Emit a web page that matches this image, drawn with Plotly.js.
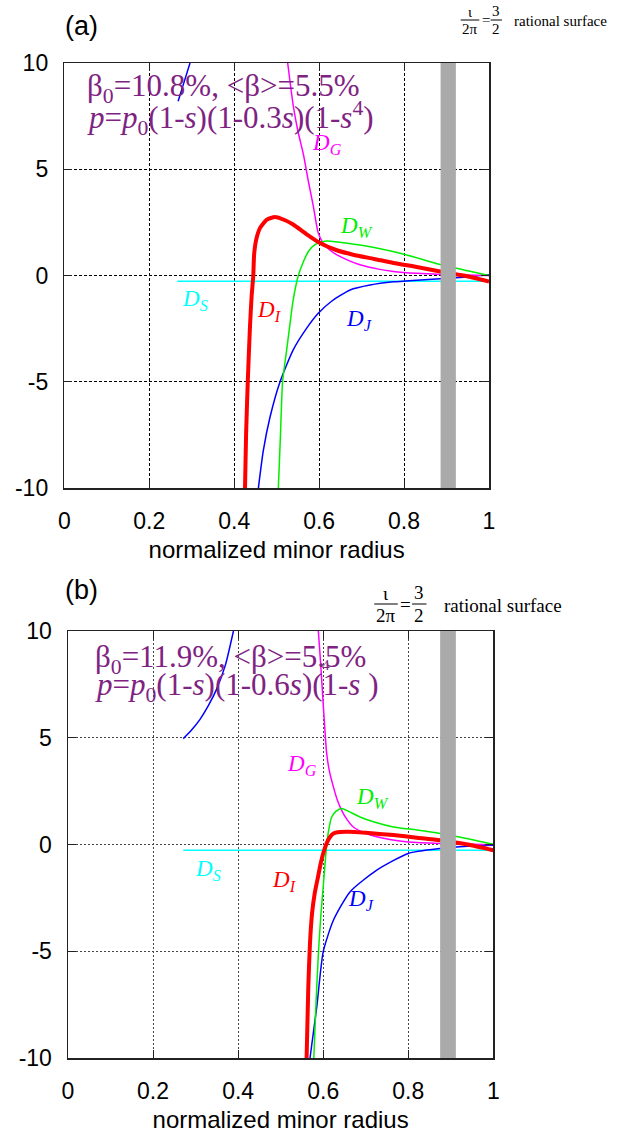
<!DOCTYPE html>
<html>
<head>
<meta charset="utf-8">
<script src="https://cdn.plot.ly/plotly-3.0.1.min.js"></script>
<style>html,body{margin:0;padding:0;background:#fff;}#chart{width:623px;height:1136px;}</style>
</head>
<body>
<div id="chart"></div>
<script>
// ---------- Panel (a) data ----------
const xIa = [0.4255,0.428,0.432,0.437,0.441,0.445,0.447,0.452,0.461,0.477,0.496,0.52,0.539,0.57,0.602,0.64,0.68,0.73,0.775,0.83,0.885,0.94,1.0];
const yIa = [-10,-7.5,-5,-2.5,-1,0,1,1.7,2.24,2.63,2.75,2.6,2.4,1.95,1.53,1.2,0.98,0.78,0.59,0.4,0.19,0.0,-0.28];
const xWa = [0.504,0.509,0.514,0.5236,0.53,0.539,0.551,0.562,0.575,0.59,0.605,0.62,0.7,0.8,0.885,0.95,1.0];
const yWa = [-10,-7.5,-5,-3.5,-2.5,-1.15,0,0.6,1.14,1.45,1.58,1.62,1.42,1.0,0.52,0.22,0.0];
const xGa = [0.526,0.539,0.55,0.563,0.575,0.586,0.598,0.61,0.625,0.641,0.67,0.696,0.74,0.775,0.83,0.885,1.0];
const yGa = [10,8.0,6.8,5.7,4.4,3.3,2.0,1.5,1.2,0.98,0.7,0.51,0.3,0.19,0.1,0.05,0.0];
const xJa = [0.268,0.282,0.296,null,0.457,0.4686,0.4843,0.508,0.539,0.57,0.598,0.63,0.673,0.72,0.775,0.83,0.885,0.94,1.0];
const yJa = [8.2,9.1,10,null,-10,-8.24,-6.67,-5.0,-3.5,-2.5,-1.78,-1.2,-0.68,-0.45,-0.3,-0.22,-0.15,-0.08,0.03];
const xSa = [0.266,0.5,0.75,1.0];
const ySa = [-0.27,-0.27,-0.27,-0.27];

// ---------- Panel (b) data ----------
const xIb = [0.561,0.565,0.569,0.574,0.58,0.587,0.594,0.601,0.608,0.616,0.624,0.64,0.66,0.7,0.765,0.82,0.875,0.94,1.0];
const yIb = [-10,-6.7,-4.6,-3.2,-2.3,-1.6,-0.9,-0.35,0.05,0.35,0.52,0.59,0.6,0.55,0.44,0.32,0.2,0.0,-0.27];
const xWb = [0.578,0.583,0.589,0.595,0.6,0.606,0.61,0.615,0.62,0.63,0.6435,0.66,0.6866,0.72,0.765,0.82,0.875,0.94,1.0];
const yWb = [-10,-7.5,-5,-3.2,-2.0,-0.5,0.3,0.9,1.29,1.55,1.69,1.55,1.29,1.05,0.82,0.68,0.52,0.27,0.01];
const xGb = [0.5886,0.594,0.6,0.604,0.608,0.615,0.624,0.633,0.6435,0.655,0.671,0.7,0.726,0.76,0.8,0.875,1.0];
const yGb = [10,8.5,6.6,5.4,4.3,3.4,2.7,2.1,1.6,1.2,0.82,0.52,0.36,0.22,0.12,0.05,0.0];
const xJb = [0.271,0.29,0.31,0.33,0.35,0.37,0.389,null,0.569,0.585,0.6,0.624,0.663,0.726,0.8,0.875,0.94,1.0];
const yJb = [4.96,5.35,5.85,6.5,7.3,8.4,10,null,-10,-7.6,-5.03,-3.55,-2.22,-1.2,-0.42,-0.19,-0.08,-0.03];
const xSb = [0.271,0.5,0.75,1.0];
const ySb = [-0.27,-0.27,-0.27,-0.27];

// rational surface location (band edges)
const bandA = [0.886, 0.922];
const bandB = [0.875, 0.912];

// tick labels
const xTickVals = [0,0.2,0.4,0.6,0.8,1];
const xTickText = ['0','0.2','0.4','0.6','0.8','1'];
const yTickVals = [-10,-5,0,5,10];
const yTickText = ['-10','-5','0','5','10'];

// texts
const panelLabels = ['(a)','(b)'];
const infoA = ['β<sub>0</sub>=10.8%, &lt;β&gt;=5.5%', '<i>p</i>=<i>p</i><sub>0</sub>(1-<i>s</i>)(1-0.3<i>s</i>)(1-<i>s</i><sup>4</sup>)'];
const infoB = ['β<sub>0</sub>=11.9%, &lt;β&gt;=5.5%', '<i>p</i>=<i>p</i><sub>0</sub>(1-<i>s</i>)(1-0.6<i>s</i>)(1-<i>s</i> )'];
const curveNames = ['<i>D</i><sub><i>I</i></sub>','<i>D</i><sub><i>W</i></sub>','<i>D</i><sub><i>G</i></sub>','<i>D</i><sub><i>J</i></sub>','<i>D</i><sub><i>S</i></sub>'];
const colors = ['#ff0000','#00ee00','#ff00ff','#0000ff','#00ffff'];

const W = 623, H = 1136;
const px = v => v / W;
const py = v => 1 - v / H;

function tr(x, y, c, w, xa, ya, name) {
  return {x: x, y: y, type: 'scatter', mode: 'lines', name: name,
    line: {color: c, width: w, shape: 'spline', smoothing: 0.6}, xaxis: xa, yaxis: ya,
    showlegend: false, hoverinfo: 'skip', connectgaps: false};
}

const data = [
  tr(xSa, ySa, colors[4], 1.5, 'x', 'y', 'D_S'),
  tr(xJa, yJa, colors[3], 1.5, 'x', 'y', 'D_J'),
  tr(xGa, yGa, colors[2], 1.5, 'x', 'y', 'D_G'),
  tr(xWa, yWa, colors[1], 1.5, 'x', 'y', 'D_W'),
  tr(xIa, yIa, colors[0], 4, 'x', 'y', 'D_I'),
  tr(xSb, ySb, colors[4], 1.5, 'x2', 'y2', 'D_S'),
  tr(xJb, yJb, colors[3], 1.5, 'x2', 'y2', 'D_J'),
  tr(xGb, yGb, colors[2], 1.5, 'x2', 'y2', 'D_G'),
  tr(xWb, yWb, colors[1], 1.5, 'x2', 'y2', 'D_W'),
  tr(xIb, yIb, colors[0], 4, 'x2', 'y2', 'D_I')
];

const tickFont = {family: 'Liberation Sans, Arial, sans-serif', size: 23, color: '#000'};
function xax(dom, gridcolor, dash) {
  return {domain: dom, range: [0, 1], tickvals: xTickVals, ticktext: xTickText,
    showgrid: true, gridcolor: gridcolor, griddash: dash, gridwidth: 1,
    ticks: 'inside', ticklen: 8, tickcolor: '#222', mirror: 'ticks', showline: true,
    linecolor: '#222', linewidth: 1.5, zeroline: false, tickfont: tickFont,
    ticklabelstandoff: 12, fixedrange: true,
    title: {text: 'normalized minor radius', font: {family: 'Liberation Sans, Arial, sans-serif', size: 24, color: '#000'}, standoff: 8}};
}
function yax(dom, gridcolor, dash, anchor) {
  return {domain: dom, range: [-10, 10], tickvals: yTickVals, ticktext: yTickText,
    showgrid: true, gridcolor: gridcolor, griddash: dash, gridwidth: 1, anchor: anchor,
    ticks: 'inside', ticklen: 8, tickcolor: '#222', mirror: 'ticks', showline: true,
    linecolor: '#222', linewidth: 1.5, zeroline: false, tickfont: tickFont,
    ticklabelstandoff: 10, fixedrange: true};
}

const purple = '#7f2383';
const serif = 'Liberation Serif, Times New Roman, serif';
const annotations = [];
function addText(text, x, y, xref, yref, size, color, xanchor, yanchor, fam) {
  annotations.push({text: text, x: x, y: y, xref: xref, yref: yref, showarrow: false,
    font: {family: fam || serif, size: size, color: color}, xanchor: xanchor || 'center', yanchor: yanchor || 'middle'});
}
// panel labels
addText(panelLabels[0], px(81), py(26), 'paper', 'paper', 27, '#000', 'center', 'middle', 'Liberation Sans, Arial, sans-serif');
addText(panelLabels[1], px(81), py(590), 'paper', 'paper', 27, '#000', 'center', 'middle', 'Liberation Sans, Arial, sans-serif');
// info texts
addText(infoA[0], px(85), py(88), 'paper', 'paper', 31, purple, 'left');
addText(infoA[1], px(85), py(118), 'paper', 'paper', 31, purple, 'left');
addText(infoB[0], px(93), py(659), 'paper', 'paper', 31, purple, 'left');
addText(infoB[1], px(93), py(687), 'paper', 'paper', 31, purple, 'left');
addText('4', px(326), py(665), 'paper', 'paper', 15, purple, 'center');
// curve labels (a)
addText(curveNames[2], 0.6186, 6.18, 'x', 'y', 23, colors[2]);
addText(curveNames[1], 0.689, 2.30, 'x', 'y', 23, colors[1]);
addText(curveNames[4], 0.3077, -1.15, 'x', 'y', 23, colors[4]);
addText(curveNames[0], 0.482, -1.67, 'x', 'y', 23, colors[0]);
addText(curveNames[3], 0.6939, -2.10, 'x', 'y', 23, colors[3]);
// curve labels (b)
addText(curveNames[2], 0.550, 3.71, 'x2', 'y2', 23, colors[2]);
addText(curveNames[1], 0.717, 2.17, 'x2', 'y2', 23, colors[1]);
addText(curveNames[4], 0.329, -1.2, 'x2', 'y2', 23, colors[4]);
addText(curveNames[0], 0.508, -1.72, 'x2', 'y2', 23, colors[0]);
addText(curveNames[3], 0.689, -2.61, 'x2', 'y2', 23, colors[3]);

// rational surface labels
const shapes = [];
function rational(xf, yb, fs, textLeft) {
  addText('ι', px(xf), py(yb - fs*0.55), 'paper', 'paper', fs, '#000');
  addText('2π', px(xf), py(yb + fs*0.6), 'paper', 'paper', fs, '#000');
  shapes.push({type: 'line', xref: 'paper', yref: 'paper', x0: px(xf - fs*0.62), x1: px(xf + fs*0.62), y0: py(yb), y1: py(yb), line: {color: '#000', width: 1}});
  addText('=', px(xf + fs*1.05), py(yb), 'paper', 'paper', fs, '#000');
  const x3 = xf + fs*1.75;
  addText('3', px(x3), py(yb - fs*0.6), 'paper', 'paper', fs, '#000');
  addText('2', px(x3), py(yb + fs*0.6), 'paper', 'paper', fs, '#000');
  shapes.push({type: 'line', xref: 'paper', yref: 'paper', x0: px(x3 - fs*0.38), x1: px(x3 + fs*0.38), y0: py(yb), y1: py(yb), line: {color: '#000', width: 1}});
  addText('rational surface', px(textLeft), py(yb + 1), 'paper', 'paper', fs, '#000', 'left');
}
rational(470, 20, 15, 512);
rational(386, 604, 19, 442);

// gray bands
shapes.push({type: 'rect', xref: 'x', yref: 'y domain', x0: bandA[0], x1: bandA[1], y0: 0, y1: 1, fillcolor: '#aaaaaa', line: {width: 0}, layer: 'above'});
shapes.push({type: 'rect', xref: 'x2', yref: 'y2 domain', x0: bandB[0], x1: bandB[1], y0: 0, y1: 1, fillcolor: '#aaaaaa', line: {width: 0}, layer: 'above'});

const layout = {
  width: W, height: H, margin: {l: 0, r: 0, t: 0, b: 0},
  paper_bgcolor: '#fff', plot_bgcolor: '#fff', showlegend: false,
  xaxis: Object.assign(xax([px(64.3), px(489)], '#000', '3px,2px'), {anchor: 'y'}),
  yaxis: yax([py(488), py(63)], '#000', '3px,2px', 'x'),
  xaxis2: Object.assign(xax([px(68), px(493.3)], '#444', '2px,2px'), {anchor: 'y2'}),
  yaxis2: yax([py(1058), py(631)], '#444', '2px,2px', 'x2'),
  annotations: annotations, shapes: shapes
};

Plotly.newPlot('chart', data, layout, {displayModeBar: false, staticPlot: true});
</script>
</body>
</html>
